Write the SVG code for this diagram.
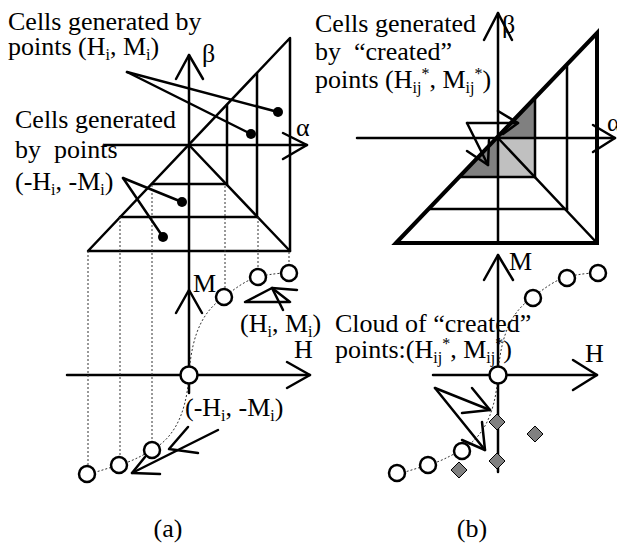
<svg xmlns="http://www.w3.org/2000/svg" width="617" height="546" viewBox="0 0 617 546">
<style>
text{font-family:"Liberation Serif","Times New Roman",serif;font-size:26px;fill:#000}
.sub{font-size:16px}
.ln{stroke:#000;stroke-width:2.5;fill:none;stroke-linecap:round;stroke-linejoin:round}
.th{stroke:#000;stroke-width:4;fill:none;stroke-linejoin:miter}
.dot{stroke:#333;stroke-width:1;stroke-dasharray:2,2;fill:none}
.pt{stroke:#000;stroke-width:2.5;fill:#fff}
.dia{stroke:#000;stroke-width:1;fill:#808080}
</style>
<rect width="617" height="546" fill="#fff"/>

<!-- Panel (a) -->
<g id="panel-a">
  <g id="a-triangle">
    <polygon class="ln" points="88,251 290,38 290,251"/>
    <line class="ln" x1="189" y1="145" x2="290" y2="251" stroke-width="3"/>
    <line class="ln" x1="227" y1="105" x2="227" y2="185"/>
    <line class="ln" x1="152" y1="184" x2="227" y2="184"/>
    <line class="ln" x1="257" y1="73" x2="257" y2="217"/>
    <line class="ln" x1="120" y1="217" x2="257" y2="217"/>
  </g>
  <g id="a-axes">
    <line class="ln" x1="189" y1="55" x2="189" y2="393"/>
    <polyline class="ln" points="176,79 189,55 203,79"/>
    <line class="ln" x1="105" y1="145" x2="307" y2="145"/>
    <polyline class="ln" points="283,133 307,145 283,159"/>
    <polyline class="ln" points="176,313 189,290 202,313"/>
    <line class="ln" x1="67" y1="375" x2="310" y2="375"/>
    <polyline class="ln" points="287,362 310,375 287,388"/>
    <text x="202" y="62">β</text>
    <text x="296" y="136">α</text>
    <text x="193" y="292">M</text>
    <text x="294" y="358">H</text>
  </g>
  <g id="a-projections">
    <line class="dot" x1="88" y1="251" x2="88" y2="466"/>
    <line class="dot" x1="120" y1="217" x2="120" y2="457"/>
    <line class="dot" x1="152" y1="185" x2="152" y2="442"/>
    <line class="dot" x1="225" y1="186" x2="225" y2="289"/>
    <line class="dot" x1="258" y1="217" x2="258" y2="269"/>
    <line class="dot" x1="289" y1="252" x2="289" y2="265"/>
    <path class="dot" d="M189,375 C192,330 205,310 224,297 C236,288 246,280 258,277 C270,274 280,273 289,273"/>
    <path class="dot" d="M189,375 C186,420 170,440 152,450 C140,457 130,462 119,465 C108,468 98,472 87,474"/>
  </g>
  <g id="a-points">
    <circle class="pt" cx="189" cy="375" r="8.5"/>
    <circle class="pt" cx="224" cy="297" r="8"/>
    <circle class="pt" cx="258" cy="277" r="8"/>
    <circle class="pt" cx="289" cy="273" r="8"/>
    <circle class="pt" cx="152" cy="450" r="8"/>
    <circle class="pt" cx="119" cy="465" r="8"/>
    <circle class="pt" cx="87" cy="474" r="8"/>
  </g>
  <g id="a-label-cells-pos">
    <text x="8" y="30">Cells generated by</text>
    <text x="8" y="55">points (H<tspan class="sub" dy="5">i</tspan><tspan dy="-5">, M</tspan><tspan class="sub" dy="5">i</tspan><tspan dy="-5">)</tspan></text>
    <line class="ln" x1="127" y1="72" x2="278" y2="112"/>
    <line class="ln" x1="127" y1="72" x2="251" y2="134"/>
    <circle cx="278" cy="112" r="5"/>
    <circle cx="251" cy="134" r="5"/>
  </g>
  <g id="a-label-cells-neg">
    <text x="15" y="128">Cells generated</text>
    <text x="15" y="158" xml:space="preserve">by  points</text>
    <text x="15" y="190">(-H<tspan class="sub" dy="5">i</tspan><tspan dy="-5">, -M</tspan><tspan class="sub" dy="5">i</tspan><tspan dy="-5">)</tspan></text>
    <line class="ln" x1="123" y1="178" x2="182" y2="202"/>
    <line class="ln" x1="123" y1="178" x2="163" y2="237"/>
    <circle cx="182" cy="202" r="5"/>
    <circle cx="163" cy="237" r="5"/>
  </g>
  <g id="a-label-pos-points">
    <polygon class="ln" points="245,302 272,288 290,302"/>
    <line class="ln" x1="272" y1="288" x2="297" y2="290"/>
    <line class="ln" x1="272" y1="288" x2="283" y2="310"/>
    <text x="240" y="332">(H<tspan class="sub" dy="5">i</tspan><tspan dy="-5">, M</tspan><tspan class="sub" dy="5">i</tspan><tspan dy="-5">)</tspan></text>
  </g>
  <g id="a-label-neg-points">
    <text x="185" y="416">(-H<tspan class="sub" dy="5">i</tspan><tspan dy="-5">, -M</tspan><tspan class="sub" dy="5">i</tspan><tspan dy="-5">)</tspan></text>
    <line class="ln" x1="218" y1="430" x2="132" y2="473"/>
    <polyline class="ln" points="160,474 132,473 145,457"/>
    <polyline class="ln" points="188,427 169,449 198,453"/>
  </g>
  <text x="168" y="537" text-anchor="middle">(a)</text>
</g>

<!-- Panel (b) -->
<g id="panel-b">
  <g id="b-shading">
    <polygon points="498,138 535,99 535,138" fill="#808080"/>
    <polygon points="498,138 460,177 498,177" fill="#808080"/>
    <rect x="498" y="138" width="37" height="39" fill="#c0c0c0"/>
  </g>
  <g id="b-triangle">
    <polygon class="th" points="396,243 597,33 597,243"/>
    <line class="ln" x1="498" y1="138" x2="597" y2="243" stroke-width="3"/>
    <line class="ln" x1="535" y1="99" x2="535" y2="177" stroke-width="3.5"/>
    <line class="ln" x1="460" y1="177" x2="535" y2="177" stroke-width="3"/>
    <line class="ln" x1="567" y1="66" x2="567" y2="210" stroke-width="3"/>
    <line class="ln" x1="429" y1="209" x2="567" y2="209"/>
  </g>
  <g id="b-axes">
    <line class="ln" x1="498" y1="13" x2="498" y2="243"/>
    <polyline class="ln" points="484,40 498,13 512,40"/>
    <line class="ln" x1="357" y1="138" x2="615" y2="138"/>
    <polyline class="ln" points="593,125 615,138 593,152"/>
    <line class="ln" x1="498" y1="255" x2="498" y2="472"/>
    <polyline class="ln" points="484,280 498,255 513,280"/>
    <line class="ln" x1="433" y1="375" x2="597" y2="375"/>
    <polyline class="ln" points="573,360 597,375 573,390"/>
    <text x="502" y="33">β</text>
    <text x="607" y="131">α</text>
    <text x="509" y="270">M</text>
    <text x="585" y="362">H</text>
  </g>
  <g id="b-curve">
    <path class="dot" d="M498,375 C501,330 514,310 533,297 C545,288 555,280 567,277 C579,274 589,273 598,273"/>
    <path class="dot" d="M498,375 C495,420 479,440 461,450 C449,457 439,462 428,465 C417,468 407,472 396,474"/>
  </g>
  <g id="b-points">
    <circle class="pt" cx="498" cy="375" r="8.5"/>
    <circle class="pt" cx="533" cy="298" r="8"/>
    <circle class="pt" cx="567" cy="278" r="8"/>
    <circle class="pt" cx="598" cy="273" r="8"/>
    <circle class="pt" cx="462" cy="451" r="8"/>
    <circle class="pt" cx="428" cy="465" r="8"/>
    <circle class="pt" cx="397" cy="473" r="8"/>
  </g>
  <g id="b-created-points">
    <polygon class="dia" points="497,414 505,422 497,430 489,422"/>
    <polygon class="dia" points="535,426 543,434 535,442 527,434"/>
    <polygon class="dia" points="497,453 505,461 497,469 489,461"/>
    <polygon class="dia" points="459,462 467,470 459,478 451,470"/>
  </g>
  <g id="b-label-cells">
    <text x="315" y="32">Cells generated</text>
    <text x="315" y="60" xml:space="preserve">by  “created”</text>
    <text x="315" y="88">points (H<tspan class="sub" dy="5">ij</tspan><tspan class="sub" dy="-14">*</tspan><tspan dy="9">, M</tspan><tspan class="sub" dy="5">ij</tspan><tspan class="sub" dy="-14">*</tspan><tspan dy="9">)</tspan></text>
    <line class="ln" x1="467" y1="123" x2="518" y2="123"/>
    <polyline class="ln" points="498,111 518,123 503,134"/>
    <line class="ln" x1="467" y1="123" x2="488" y2="165"/>
    <polyline class="ln" points="467,151 488,165 489,140"/>
  </g>
  <g id="b-label-cloud">
    <text x="335" y="332">Cloud of “created”</text>
    <text x="335" y="358">points:(H<tspan class="sub" dy="5">ij</tspan><tspan class="sub" dy="-14">*</tspan><tspan dy="9">, M</tspan><tspan class="sub" dy="5">ij</tspan><tspan class="sub" dy="-14">*</tspan><tspan dy="9">)</tspan></text>
    <line class="ln" x1="435" y1="388" x2="490" y2="410"/>
    <polyline class="ln" points="472,388 490,410 462,413"/>
    <line class="ln" x1="435" y1="388" x2="485" y2="450"/>
    <polyline class="ln" points="462,440 485,450 482,422"/>
  </g>
  <text x="472" y="537" text-anchor="middle">(b)</text>
</g>
</svg>
